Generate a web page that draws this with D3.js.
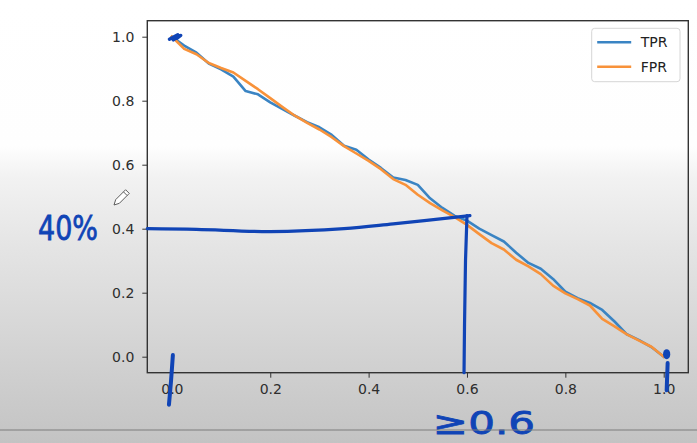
<!DOCTYPE html>
<html>
<head>
<meta charset="utf-8">
<script src="https://cdn.jsdelivr.net/npm/d3@7"></script>
<style>
  html, body { margin: 0; padding: 0; background: #fff; }
  svg { display: block; }
  text { font-family: "DejaVu Sans", sans-serif; }
</style>
</head>
<body>
<svg id="chart" width="697" height="443"></svg>
<script>
// ---- data ----
const thresholds = [0.000,0.025,0.050,0.075,0.100,0.125,0.150,0.175,0.200,0.225,
                    0.250,0.275,0.300,0.325,0.350,0.375,0.400,0.425,0.450,0.475,
                    0.500,0.525,0.550,0.575,0.600,0.625,0.650,0.675,0.700,0.725,
                    0.750,0.775,0.800,0.825,0.850,0.875,0.900,0.925,0.950,0.975,1.000];
const tpr = [1.000,0.972,0.950,0.916,0.898,0.875,0.830,0.820,0.795,0.774,
             0.753,0.733,0.717,0.693,0.659,0.647,0.616,0.590,0.560,0.552,
             0.537,0.495,0.465,0.440,0.425,0.400,0.380,0.360,0.325,0.293,
             0.275,0.243,0.203,0.183,0.168,0.146,0.110,0.070,0.052,0.030,0.000];
const fpr = [1.000,0.962,0.945,0.918,0.902,0.888,0.862,0.836,0.808,0.780,
             0.753,0.731,0.710,0.686,0.658,0.635,0.612,0.586,0.555,0.537,
             0.506,0.480,0.457,0.436,0.412,0.383,0.355,0.335,0.303,0.282,
             0.258,0.222,0.198,0.180,0.160,0.118,0.095,0.070,0.050,0.031,0.000];
const seriesNames = ["TPR", "FPR"];
const xTicks = [0.0, 0.2, 0.4, 0.6, 0.8, 1.0];
const yTicks = [0.0, 0.2, 0.4, 0.6, 0.8, 1.0];

// hand-drawn annotation (data units)
const guideH = [[-0.05,0.400],[0.05,0.398],[0.20,0.391],[0.35,0.400],[0.45,0.415],[0.606,0.441]];
const guideV = [[0.600,0.441],[0.597,0.30],[0.595,0.10],[0.594,-0.05]];
const tick0Mark = [[0.002,0.005],[-0.002,-0.08],[-0.006,-0.15]];
const tick1Mark = [[1.008,-0.02],[1.006,-0.105]];

// ---- layout ----
const W = 697, H = 443;
const plot = { left: 147.3, right: 688.3, top: 20.7, bottom: 372.7 };
const colors = { TPR: "#3a84c3", FPR: "#f8923a" };
const ink = "#1044b6";

const svg = d3.select("#chart");
const defs = svg.append("defs");
const grad = defs.append("linearGradient")
  .attr("id", "bg").attr("gradientUnits", "userSpaceOnUse")
  .attr("x1", 0).attr("y1", 0).attr("x2", 0).attr("y2", H);
[[0, "#ffffff"], [0.33, "#fefefe"], [0.40, "#f2f2f2"], [0.55, "#e5e5e5"],
 [0.75, "#d6d6d6"], [0.965, "#c6c6c6"], [1, "#c3c3c3"]]
  .forEach(([o, c]) => grad.append("stop").attr("offset", o).attr("stop-color", c));

svg.append("rect").attr("width", W).attr("height", H).attr("fill", "url(#bg)");

const x = d3.scaleLinear().domain([-0.05, 1.05]).range([plot.left, plot.right]);
const y = d3.scaleLinear().domain([-0.05, 1.05]).range([plot.bottom, plot.top]);

// axes
const gx = svg.append("g").attr("transform", `translate(0,${plot.bottom})`)
  .call(d3.axisBottom(x).tickValues(xTicks).tickFormat(d3.format(".1f")).tickSize(5).tickPadding(6));
const gy = svg.append("g").attr("transform", `translate(${plot.left},0)`)
  .call(d3.axisLeft(y).tickValues(yTicks).tickFormat(d3.format(".1f")).tickSize(5).tickPadding(8));
[gx, gy].forEach(g => {
  g.select(".domain").remove();
  g.selectAll(".tick line").attr("stroke", "#333").attr("stroke-width", 1);
  g.selectAll(".tick text").attr("fill", "#2e2e2e").style("font-size", "14px")
    .style("font-family", "'DejaVu Sans', sans-serif");
});

// lines
const line = d3.line().x(d => x(d[0])).y(d => y(d[1]));
const series = [
  { name: "TPR", values: thresholds.map((t, i) => [t, tpr[i]]) },
  { name: "FPR", values: thresholds.map((t, i) => [t, fpr[i]]) }
];
svg.append("g").selectAll("path").data(series).join("path")
  .attr("d", d => line(d.values))
  .attr("fill", "none")
  .attr("stroke", d => colors[d.name])
  .attr("stroke-width", 2.6)
  .attr("stroke-linejoin", "round")
  .attr("stroke-linecap", "square");

// frame (spines)
svg.append("rect")
  .attr("x", plot.left).attr("y", plot.top)
  .attr("width", plot.right - plot.left).attr("height", plot.bottom - plot.top)
  .attr("fill", "none").attr("stroke", "#333").attr("stroke-width", 1.4);

// legend
const lg = svg.append("g").attr("transform", `translate(${plot.right - 96.6},${plot.top + 7.6})`);
lg.append("rect").attr("width", 88.3).attr("height", 53.4).attr("rx", 3)
  .attr("fill", "#ffffff").attr("fill-opacity", 0.85)
  .attr("stroke", "#d6d6d6").attr("stroke-width", 1);
seriesNames.forEach((n, i) => {
  const yy = 14 + i * 24.5;
  lg.append("line").attr("x1", 5.5).attr("x2", 39.5).attr("y1", yy).attr("y2", yy)
    .attr("stroke", colors[n]).attr("stroke-width", 2.6);
  lg.append("text").attr("x", 49).attr("y", yy).attr("dy", "0.36em")
    .attr("fill", "#222").style("font-size", "14px").text(n);
});

// hand-drawn annotations
const ann = svg.append("g").attr("fill", "none").attr("stroke", ink)
  .attr("stroke-width", 3.2).attr("stroke-linecap", "round").attr("stroke-linejoin", "round");
const curve = d3.line().x(d => x(d[0])).y(d => y(d[1])).curve(d3.curveCatmullRom);
ann.append("path").attr("d", curve(guideH));
ann.append("path").attr("d", line(guideV));
ann.append("path").attr("d", curve(tick0Mark)).attr("stroke-width", 4);
ann.append("path").attr("d", line(tick1Mark)).attr("stroke-width", 4);
// dot at (1,0)
svg.append("ellipse").attr("cx", x(1.006)).attr("cy", y(0.008)).attr("rx", 3.6).attr("ry", 5)
  .attr("fill", ink);
// scribble at (0,1)
ann.append("path").attr("stroke-width", 3.4)
  .attr("d", line([[-0.005,0.992],[0.012,1.006],[0.003,0.99],[0.018,1.004],[0.010,0.995]]));

// pencil cursor
const pen = svg.append("g").attr("transform", "translate(114,205) rotate(-45)");
pen.append("path").attr("d", "M0,0 L5,-2.6 L19,-2.6 L19,2.6 L5,2.6 Z")
  .attr("fill", "#ffffff").attr("stroke", "#555").attr("stroke-width", 0.9);
pen.append("line").attr("x1", 16).attr("x2", 16).attr("y1", -2.6).attr("y2", 2.6)
  .attr("stroke", "#555").attr("stroke-width", 0.9);

// handwritten text
svg.append("text").attr("x", 38).attr("y", 240)
  .attr("textLength", 60).attr("lengthAdjust", "spacingAndGlyphs")
  .attr("fill", ink).attr("stroke", ink).attr("stroke-width", 0.8)
  .style("font-size", "34px").text("40%");
svg.append("text").attr("x", 433).attr("y", 434)
  .attr("textLength", 102).attr("lengthAdjust", "spacingAndGlyphs")
  .attr("fill", ink).attr("stroke", ink).attr("stroke-width", 0.8)
  .style("font-size", "32px").text("≥0.6");

// horizontal screen line near bottom
svg.append("line").attr("x1", 0).attr("x2", W).attr("y1", 430).attr("y2", 430)
  .attr("stroke", "#7c7c7c").attr("stroke-width", 1.2);
</script>
</body>
</html>
